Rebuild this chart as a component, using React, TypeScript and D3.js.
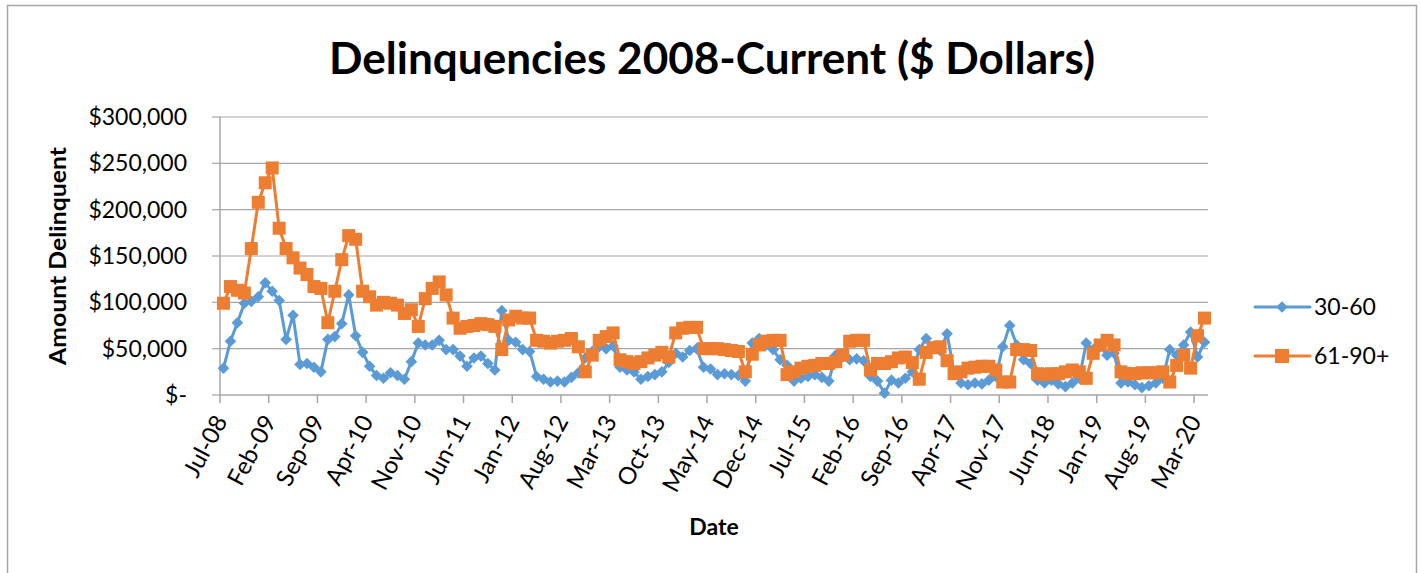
import React from "react";
import * as d3 from "d3";

const tickLabels = [
  "Jul-08", "Feb-09", "Sep-09", "Apr-10", "Nov-10", "Jun-11", "Jan-12",
  "Aug-12", "Mar-13", "Oct-13", "May-14", "Dec-14", "Jul-15", "Feb-16",
  "Sep-16", "Apr-17", "Nov-17", "Jun-18", "Jan-19", "Aug-19", "Mar-20",
];

// monthly values (thousands of dollars), Jul-08 .. Apr-20
const series30to60 = [
  29, 58, 78, 99, 101, 106, 121, 112, 102, 60, 86, 33, 34, 30, 25, 60, 63, 77, 108, 64,
  46, 31, 21, 18, 24, 21, 17, 36, 56, 54, 54, 59, 49, 49, 42, 31, 40, 42, 34, 27,
  91, 59, 57, 49, 47, 20, 17, 14, 15, 14, 19, 24, 40, 47, 52, 50, 53, 30, 27, 25,
  17, 20, 22, 25, 35, 45, 41, 48, 50, 30, 28, 22, 23, 22, 21, 15, 56, 61, 54, 49,
  38, 32, 15, 18, 20, 22, 19, 15, 43, 41, 38, 39, 37, 20, 15, 2, 16, 13, 18, 25,
  49, 61, 52, 48, 66, 25, 13, 11, 13, 12, 16, 20, 52, 75, 54, 38, 34, 16, 13, 16,
  12, 9, 13, 18, 56, 49, 52, 43, 45, 13, 14, 11, 8, 10, 13, 18, 49, 43, 54, 68,
  41, 57,
];

const series61to90 = [
  99, 117, 113, 110, 158, 208, 229, 245, 180, 158, 148, 137, 130, 117, 115, 78, 112, 146, 172, 168,
  112, 106, 97, 100, 99, 97, 88, 92, 74, 104, 115, 122, 108, 83, 72, 74, 75, 77, 76, 74,
  49, 81, 85, 83, 83, 59, 58, 56, 58, 59, 61, 52, 25, 43, 59, 63, 67, 38, 36, 34,
  36, 40, 43, 46, 41, 67, 72, 73, 73, 50, 50, 50, 49, 48, 47, 25, 44, 54, 58, 59,
  59, 22, 25, 29, 31, 32, 34, 34, 36, 43, 58, 59, 59, 27, 34, 34, 36, 40, 41, 35,
  17, 46, 51, 52, 37, 23, 25, 29, 30, 31, 31, 27, 14, 14, 49, 49, 48, 23, 22, 23,
  23, 25, 27, 25, 18, 45, 54, 59, 54, 25, 23, 23, 24, 24, 24, 25, 14, 32, 43, 29,
  64, 83,
];

const seriesNames = ["30-60", "61-90+"];
const seriesColors = ["#5B9BD5", "#ED7D31"];
const yTickValues = [0, 50000, 100000, 150000, 200000, 250000, 300000];
const monthsPerTick = 7;

const FONT = "Lato, 'Open Sans', sans-serif";

export default function App() {
  const n = series30to60.length;
  const left = 220, right = 1208, top = 117, bottom = 395;

  const x = d3.scaleBand<number>().domain(d3.range(n)).range([left, right]).padding(0);
  const cx = (i: number) => (x(i) as number) + x.bandwidth() / 2;
  const y = d3.scaleLinear().domain([0, 300000]).range([bottom, top]);

  const line = d3
    .line<number>()
    .x((_, i) => cx(i))
    .y((d) => y(d * 1000));

  const fmt = (v: number) => (v === 0 ? "$-" : "$" + d3.format(",")(v));
  const gridColor = "#A6A6A6";

  const diamond = (px: number, py: number, r: number) =>
    `M${px},${py - r}L${px + r},${py}L${px},${py + r}L${px - r},${py}Z`;

  const renderSeries = (data: number[], idx: number) => {
    const color = seriesColors[idx];
    return (
      <g key={idx}>
        <path d={line(data) || ""} fill="none" stroke={color} strokeWidth={3} strokeLinejoin="round" />
        {data.map((d, i) =>
          idx === 0 ? (
            <path key={i} d={diamond(cx(i), y(d * 1000), 5.8)} fill={color} />
          ) : (
            <rect key={i} x={cx(i) - 6.5} y={y(d * 1000) - 6.5} width={13} height={13} fill={color} />
          )
        )}
      </g>
    );
  };

  const legendY = [307, 356];

  return (
    <svg
      width={1421}
      height={573}
      style={{ position: "absolute", left: 0, top: 0, background: "#fff", display: "block" }}
      fontFamily={FONT}
    >
      <rect x={0} y={0} width={1421} height={573} fill="#fff" />
      <rect x={7.5} y={5.5} width={1409} height={600} fill="none" stroke="#A6A6A6" strokeWidth={1.5} />

      {/* title */}
      <text
        x={712}
        y={74}
        textAnchor="middle"
        fontSize={44}
        fontWeight="bold"
        fill="#000"
        textLength={766}
        lengthAdjust="spacingAndGlyphs"
      >
        Delinquencies 2008-Current ($ Dollars)
      </text>

      {/* gridlines and y ticks */}
      {yTickValues.map((v) => (
        <g key={v}>
          {v > 0 && <line x1={left} x2={right} y1={y(v)} y2={y(v)} stroke={gridColor} strokeWidth={1.2} />}
          <line x1={left - 8} x2={left} y1={y(v)} y2={y(v)} stroke={gridColor} strokeWidth={1.2} />
          <text x={187} y={y(v)} dy="0.35em" textAnchor="end" fontSize={23} fill="#000">
            {fmt(v)}
          </text>
        </g>
      ))}

      {/* axes */}
      <line x1={left} x2={left} y1={top} y2={bottom} stroke={gridColor} strokeWidth={1.5} />
      <line x1={left} x2={right} y1={bottom} y2={bottom} stroke={gridColor} strokeWidth={1.5} />

      {/* x ticks and labels */}
      {tickLabels.map((lab, k) => {
        const tx = x(k * monthsPerTick) as number;
        return (
          <g key={lab}>
            <line x1={tx} x2={tx} y1={bottom} y2={bottom + 8} stroke={gridColor} strokeWidth={1.5} />
            <text
              transform={`translate(${tx + 8},${421}) rotate(-62)`}
              textAnchor="end"
              fontSize={24}
              fill="#000"
            >
              {lab}
            </text>
          </g>
        );
      })}

      {/* axis titles */}
      <text transform="translate(66,256) rotate(-90)" textAnchor="middle" fontSize={23} fontWeight="bold" textLength={218} lengthAdjust="spacingAndGlyphs">
        Amount Delinquent
      </text>
      <text x={714} y={535} textAnchor="middle" fontSize={23} fontWeight="bold">
        Date
      </text>

      {/* series */}
      {[series30to60, series61to90].map((s, i) => renderSeries(s, i))}

      {/* legend */}
      {seriesNames.map((name, i) => {
        const ly = legendY[i];
        const color = seriesColors[i];
        return (
          <g key={name}>
            <line x1={1255} x2={1310} y1={ly} y2={ly} stroke={color} strokeWidth={3} strokeLinecap="round" />
            {i === 0 ? (
              <path d={diamond(1282, ly, 5.8)} fill={color} />
            ) : (
              <rect x={1282 - 7} y={ly - 7} width={14} height={14} fill={color} />
            )}
            <text x={1314} y={ly} dy="0.35em" fontSize={23} fill="#000">
              {name}
            </text>
          </g>
        );
      })}
    </svg>
  );
}
